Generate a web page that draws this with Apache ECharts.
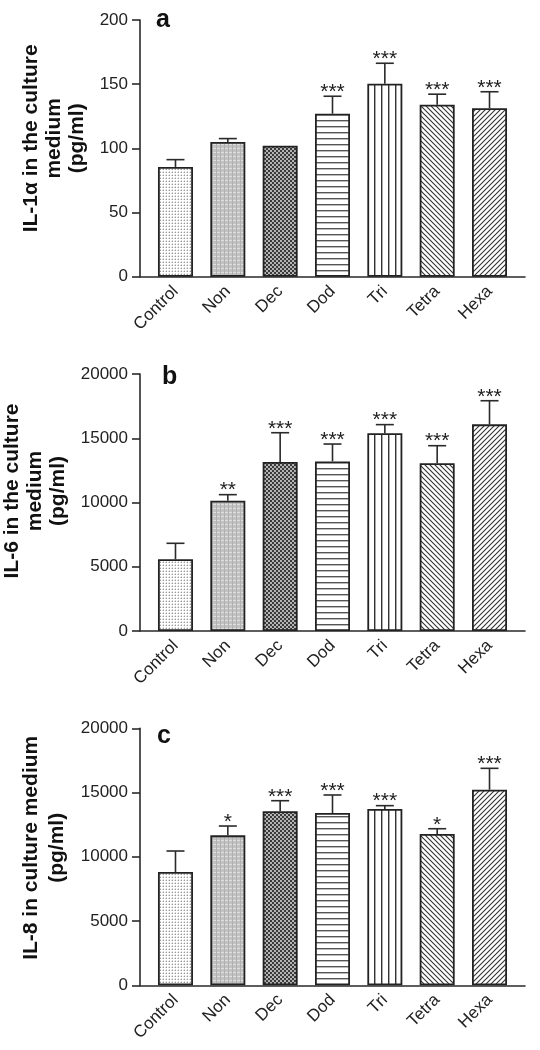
<!DOCTYPE html>
<html>
<head>
<meta charset="utf-8">
<script src="https://cdn.jsdelivr.net/npm/echarts@6.0.0/dist/echarts.min.js"></script>
<style>
html,body{margin:0;padding:0;background:#fff;}
#chart{width:540px;height:1050px;}
</style>
</head>
<body>
<div id="chart"></div>
<script>
// ---- data ----
const categories = ['Control', 'Non', 'Dec', 'Dod', 'Tri', 'Tetra', 'Hexa'];
const panelLetters = ['a', 'b', 'c'];
const yTitles = ['IL-1\u03b1 in the culture\nmedium\n(pg/ml)', 'IL-6 in the culture\nmedium\n(pg/ml)', 'IL-8 in culture medium\n(pg/ml)'];
const il1aMean = [85.5, 105, 102, 127, 150.3, 134, 131.3];
const il1aErr  = [5.7, 2.6, 0, 13.6, 16, 8.2, 12.8];
const il1aSig  = ['', '', '', '***', '***', '***', '***'];
const il6Mean  = [5580, 10140, 13150, 13200, 15390, 13050, 16080];
const il6Err   = [1245, 470, 2280, 1350, 670, 1370, 1840];
const il6Sig   = ['', '**', '***', '***', '***', '***', '***'];
const il8Mean  = [8820, 11670, 13540, 13410, 13720, 11770, 15220];
const il8Err   = [1630, 725, 825, 1400, 260, 415, 1665];
const il8Sig   = ['', '*', '***', '***', '***', '*', '***'];
const yMax = [200, 20000, 20000];
const yInterval = [50, 5000, 5000];

// ---- styles ----
const FONT = "'Liberation Sans', Arial, sans-serif";
function tile(w, h, draw) {
  const c = document.createElement('canvas');
  c.width = w; c.height = h;
  const g = c.getContext('2d');
  g.fillStyle = '#fff'; g.fillRect(0, 0, w, h);
  draw(g, w, h);
  return { image: c, repeat: 'repeat' };
}
const patterns = [
  tile(3, 3, g => { g.fillStyle = '#d6d6d6'; g.fillRect(0, 1, 1, 1); g.fillRect(1, 0, 1, 1); g.fillStyle = '#9a9a9a'; g.fillRect(1, 1, 1, 1); }),
  tile(4, 4, g => { g.fillStyle = '#c2c2c2'; g.fillRect(0, 0, 4, 4); g.fillStyle = '#dedede'; g.fillRect(0, 0, 4, 1); g.fillStyle = '#b0b0b0'; g.fillRect(0, 0, 1, 4); }),
  tile(4, 4, g => { g.fillStyle = '#3a3a3a'; g.fillRect(0, 0, 4, 4); g.fillStyle = '#b4b4b4'; g.fillRect(0, 0, 2, 2); g.fillRect(2, 2, 2, 2); }),
  tile(4, 6, g => { g.fillStyle = '#555'; g.fillRect(0, 0, 4, 1); g.fillStyle = '#bbb'; g.fillRect(0, 1, 4, 1); }),
  tile(7, 4, g => { g.fillStyle = '#333'; g.fillRect(3, 0, 1, 4); g.fillStyle = '#aaa'; g.fillRect(4, 0, 1, 4); }),
  tile(5, 5, g => { g.strokeStyle = '#333'; g.lineWidth = 1.1; g.beginPath();
    g.moveTo(-1, -1); g.lineTo(6, 6); g.moveTo(-1, 4); g.lineTo(1, 6); g.moveTo(4, -1); g.lineTo(6, 1); g.stroke(); }),
  tile(5, 5, g => { g.strokeStyle = '#333'; g.lineWidth = 1.1; g.beginPath();
    g.moveTo(-1, 6); g.lineTo(6, -1); g.moveTo(-1, 1); g.lineTo(1, -1); g.moveTo(4, 6); g.lineTo(6, 4); g.stroke(); })
];

const panels = [
  { mean: il1aMean, err: il1aErr, sig: il1aSig },
  { mean: il6Mean, err: il6Err, sig: il6Sig },
  { mean: il8Mean, err: il8Err, sig: il8Sig }
];
const grids = [
  { left: 140, right: 15, top: 20, height: 256.7, outerBoundsMode: 'none', containLabel: false },
  { left: 140, right: 15, top: 374, height: 257, outerBoundsMode: 'none', containLabel: false },
  { left: 140, right: 15, top: 728.3, height: 257, outerBoundsMode: 'none', containLabel: false }
];
const nameGaps = [48, 68, 66];
const nameLH = [23, 23, 26];
const namePad = [[0, 0, 0, 20], [0, 0, 0, 23], [0, 0, 0, 18]];
const titlePos = [{ left: 156, top: 8 }, { left: 162, top: 364.5 }, { left: 157, top: 723.5 }];

function errRenderer(p) {
  return function (params, api) {
    const i = params.dataIndex;
    const base = api.coord([i, p.mean[i]]);
    const top = api.coord([i, p.mean[i] + p.err[i]]);
    const children = [];
    if (p.err[i] > 0) {
      children.push({ type: 'line', shape: { x1: base[0], y1: base[1], x2: top[0], y2: top[1] }, style: { stroke: '#2a2a2a', lineWidth: 1.6 } });
      children.push({ type: 'line', shape: { x1: top[0] - 9, y1: top[1], x2: top[0] + 9, y2: top[1] }, style: { stroke: '#2a2a2a', lineWidth: 1.6 } });
    }
    if (p.sig[i]) {
      children.push({ type: 'text', x: top[0], y: top[1] - 4,
        style: { text: p.sig[i], font: '21px ' + FONT, fill: '#222', align: 'center', verticalAlign: 'middle' } });
    }
    return { type: 'group', children };
  };
}

const option = {
  animation: false,
  backgroundColor: '#fff',
  title: panelLetters.map((t, k) => ({ text: t, left: titlePos[k].left, top: titlePos[k].top, padding: 0,
    textStyle: { fontFamily: FONT, fontWeight: 'bold', fontSize: 25, color: '#111' } })),
  grid: grids,
  xAxis: grids.map((g, k) => ({
    type: 'value', gridIndex: k, min: -0.678, max: 6.678,
    splitLine: { show: false },
    axisTick: { show: false },
    axisLine: { show: true, onZero: false, lineStyle: { color: '#2a2a2a', width: 1.6 } },
    axisLabel: { customValues: [0, 1, 2, 3, 4, 5, 6], formatter: v => categories[Math.round(v)],
      rotate: 45, margin: 12, fontSize: 17, fontFamily: FONT, color: '#222' }
  })),
  yAxis: grids.map((g, k) => ({
    type: 'value', gridIndex: k, min: 0, max: yMax[k], interval: yInterval[k],
    splitLine: { show: false },
    axisLine: { show: true, onZero: false, lineStyle: { color: '#2a2a2a', width: 1.6 } },
    axisTick: { show: true, length: 8, lineStyle: { color: '#2a2a2a', width: 1.6 } },
    axisLabel: { fontSize: 17, fontFamily: FONT, color: '#222', margin: 12, formatter: v => String(v) },
    name: yTitles[k], nameLocation: 'middle', nameGap: nameGaps[k],
    nameTextStyle: { fontFamily: FONT, fontWeight: 'bold', fontSize: 21, color: '#111', lineHeight: nameLH[k], padding: namePad[k] }
  })),
  series: []
};

panels.forEach((p, k) => {
  option.series.push({
    type: 'bar', xAxisIndex: k, yAxisIndex: k, barWidth: 35,
    data: p.mean.map((v, i) => ({ value: [i, v], itemStyle: { color: patterns[i] } })),
    itemStyle: { borderColor: '#222', borderWidth: 1.8 }
  });
  option.series.push({
    type: 'custom', xAxisIndex: k, yAxisIndex: k, z: 5,
    data: p.mean.map((v, i) => [i, v + p.err[i]]),
    encode: { x: 0, y: 1 },
    renderItem: errRenderer(p)
  });
});

const chart = echarts.init(document.getElementById('chart'), null, { renderer: 'canvas' });
chart.setOption(option);
</script>
</body>
</html>
